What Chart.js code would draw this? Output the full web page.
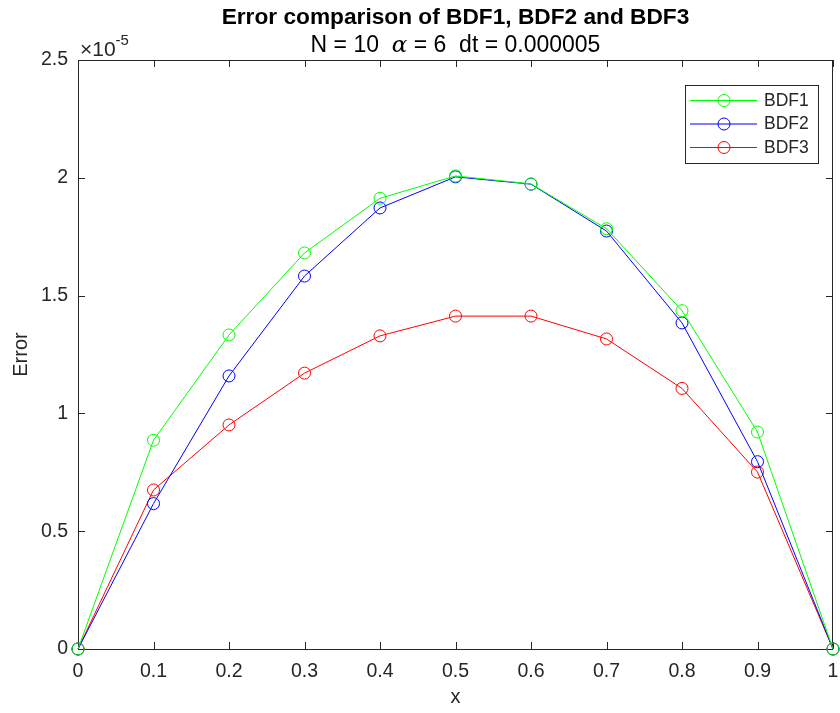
<!DOCTYPE html>
<html lang="en">
  <head>
    <meta charset="UTF-8" />
    <title>Error comparison of BDF1, BDF2 and BDF3</title>
  </head>
  <style>
    * {
      margin: 0;
      padding: 0;
    }
    body {
      background: white;
    }
  </style>
  <body>
    <canvas id="myChart" width="840" height="713"></canvas>

    <script src="https://cdn.jsdelivr.net/npm/chart.js"></script>

    <script>
      // data block (errors in units of 1e-5)
      const xs = [0, 0.1, 0.2, 0.3, 0.4, 0.5, 0.6, 0.7, 0.8, 0.9, 1];
      const bdf1 = [0, 0.886, 1.333, 1.681, 1.913, 2.008, 1.974, 1.784, 1.436, 0.921, 0];
      const bdf2 = [0, 0.617, 1.159, 1.583, 1.872, 2.004, 1.973, 1.774, 1.384, 0.795, 0];
      const bdf3 = [0, 0.675, 0.951, 1.171, 1.329, 1.413, 1.413, 1.316, 1.106, 0.751, 0];
      const seriesNames = ["BDF1", "BDF2", "BDF3"];
      const seriesColors = ["#00ff00", "#0000ff", "#ff0000"];
      const yTicks = [0, 0.5, 1, 1.5, 2, 2.5];

      const ink = "#262626";
      const font = "'Liberation Sans', Arial, sans-serif";

      function makeSet(name, values, color) {
        return {
          label: name,
          data: xs.map((x, i) => ({ x: x, y: values[i] })),
          borderColor: color,
          borderWidth: 1,
          pointStyle: "circle",
          pointRadius: 6,
          pointBorderWidth: 1,
          pointBorderColor: color,
          pointBackgroundColor: "rgba(0,0,0,0)",
          tension: 0,
          clip: false
        };
      }

      const data = {
        datasets: [
          makeSet(seriesNames[0], bdf1, seriesColors[0]),
          makeSet(seriesNames[1], bdf2, seriesColors[1]),
          makeSet(seriesNames[2], bdf3, seriesColors[2])
        ]
      };

      // plugin block: matlab style box, inward ticks, titles, legend
      const matlabAxes = {
        id: "matlabAxes",
        beforeDatasetsDraw(chart) {
          const {
            ctx,
            chartArea: { left, top, right, bottom },
            scales: { x, y }
          } = chart;
          ctx.save();
          ctx.strokeStyle = ink;
          ctx.lineWidth = 1;
          ctx.strokeRect(left + 0.5, top + 0.5, right - left - 1, bottom - top);
          const tl = 7;
          ctx.beginPath();
          x.ticks.forEach((t) => {
            const px = Math.round(x.getPixelForValue(t.value)) + 0.5;
            ctx.moveTo(px, bottom);
            ctx.lineTo(px, bottom - tl);
            ctx.moveTo(px, top);
            ctx.lineTo(px, top + tl);
          });
          y.ticks.forEach((t) => {
            const py = Math.round(y.getPixelForValue(t.value)) + 0.5;
            ctx.moveTo(left, py);
            ctx.lineTo(left + tl, py);
            ctx.moveTo(right, py);
            ctx.lineTo(right - tl, py);
          });
          ctx.stroke();
          ctx.restore();
        },
        afterDatasetsDraw(chart) {
          const {
            ctx,
            chartArea: { left, top, right }
          } = chart;
          const cx = (left + right) / 2;
          ctx.save();
          ctx.fillStyle = "#000";
          ctx.textAlign = "center";
          ctx.textBaseline = "alphabetic";
          ctx.font = "bold 22.7px " + font;
          ctx.fillText("Error comparison of BDF1, BDF2 and BDF3", cx, 24);

          // subtitle with italic alpha
          const parts = [
            ["N = 10  ", "23px " + font],
            ["\u03b1", "italic 23px 'DejaVu Serif', serif"],
            [" = 6  dt = 0.000005", "23px " + font]
          ];
          let w = 0;
          parts.forEach((p) => {
            ctx.font = p[1];
            w += ctx.measureText(p[0]).width;
          });
          let sx = cx - w / 2;
          ctx.textAlign = "left";
          parts.forEach((p) => {
            ctx.font = p[1];
            ctx.fillText(p[0], sx, 52);
            sx += ctx.measureText(p[0]).width;
          });

          // exponent label
          ctx.fillStyle = ink;
          ctx.font = "21px " + font;
          ctx.fillText("\u00d710", left + 2, 56);
          const ew = ctx.measureText("\u00d710").width;
          ctx.font = "15px " + font;
          ctx.fillText("-5", left + 2 + ew, 45);

          // legend
          const bx = 685, by = 85, bw = 133, bh = 78;
          ctx.fillStyle = "#fff";
          ctx.fillRect(bx, by, bw, bh);
          ctx.strokeStyle = ink;
          ctx.lineWidth = 1;
          ctx.strokeRect(bx + 0.5, by + 0.5, bw, bh);
          ctx.font = "17.5px " + font;
          ctx.textBaseline = "middle";
          chart.data.datasets.forEach((ds, i) => {
            const ry = by + 15 + i * 23.5;
            ctx.strokeStyle = ds.borderColor;
            ctx.beginPath();
            ctx.moveTo(bx + 5, ry + 0.5);
            ctx.lineTo(bx + 72, ry + 0.5);
            ctx.stroke();
            ctx.beginPath();
            ctx.arc(bx + 39, ry + 0.5, 6, 0, Math.PI * 2);
            ctx.stroke();
            ctx.fillStyle = ink;
            ctx.fillText(ds.label, bx + 79, ry + 1);
          });
          ctx.restore();
        }
      };

      // config block
      const config = {
        type: "line",
        data,
        options: {
          responsive: false,
          animation: false,
          layout: {
            padding: { left: 0, right: 7, top: 60, bottom: 0 }
          },
          plugins: {
            legend: { display: false },
            tooltip: { enabled: false }
          },
          scales: {
            x: {
              type: "linear",
              min: 0,
              max: 1,
              grid: { display: false, drawTicks: false },
              border: { display: false },
              ticks: {
                stepSize: 0.1,
                padding: 11,
                color: ink,
                font: { family: font, size: 19.5 },
                maxRotation: 0,
                callback: (v) => String(Number(v.toFixed(1)))
              },
              title: {
                display: true,
                text: "x",
                color: ink,
                font: { family: font, size: 20 },
                padding: { top: 4, bottom: 4 }
              },
              afterFit(scale) {
                scale.height = 64;
                scale.paddingLeft = 0;
                scale.paddingRight = 0;
              }
            },
            y: {
              type: "linear",
              min: 0,
              max: 2.5,
              grid: { display: false, drawTicks: false },
              border: { display: false },
              afterBuildTicks(scale) {
                scale.ticks = yTicks.map((v) => ({ value: v }));
              },
              ticks: {
                padding: 10,
                color: ink,
                font: { family: font, size: 19.5 },
                callback: (v) => String(v)
              },
              title: {
                display: true,
                text: "Error",
                color: ink,
                font: { family: font, size: 20 },
                padding: { top: 9, bottom: 4 }
              },
              afterFit(scale) {
                scale.width = 78;
                scale.paddingTop = 0;
                scale.paddingBottom = 0;
              }
            }
          }
        },
        plugins: [matlabAxes]
      };

      // init render block
      const myChart = new Chart(document.getElementById("myChart"), config);
    </script>
  </body>
</html>
